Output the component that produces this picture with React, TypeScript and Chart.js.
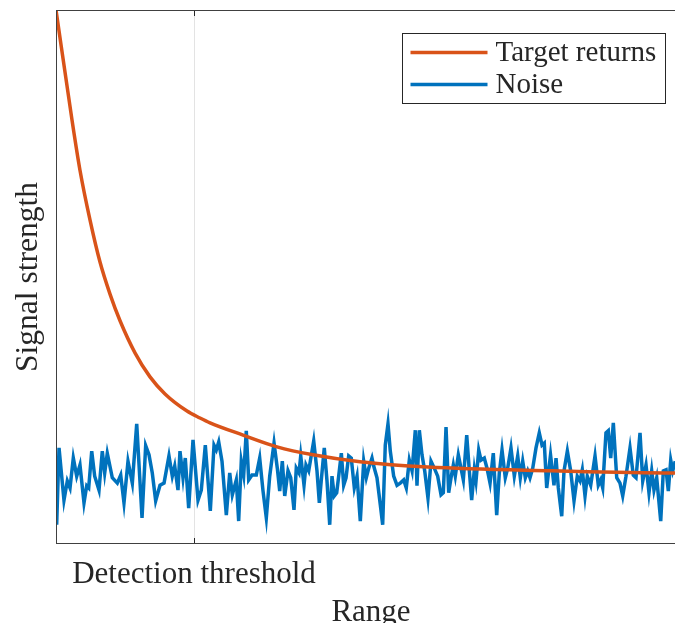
import { useEffect, useRef } from "react";
import { Chart, registerables } from "chart.js";

Chart.register(...registerables);

const rangeTitle = "Range";
const signalTitle = "Signal strength";
const rangeMax = 101.94;
const thresholdRange = 22.33;
const thresholdLabel = "Detection threshold";
const seriesNames = ["Target returns", "Noise"];
const seriesColors = ["#D95319", "#0072BD"];

const targetRange = [0, 2.59, 3.88, 5.5, 7.12, 8.74, 10.36, 12.78, 15.21, 17.64, 21.2, 23.3, 24.92, 30.26, 35.76, 41.59, 49.19, 60.19, 80.26, 100, 101.94];
const targetSignal = [1.0, 0.794, 0.7, 0.607, 0.528, 0.468, 0.418, 0.358, 0.313, 0.281, 0.249, 0.236, 0.227, 0.204, 0.182, 0.167, 0.154, 0.144, 0.137, 0.133, 0.133];

const noiseRange = [
  0.11, 0.49, 1.29, 1.83, 2.27, 2.8, 3.35, 3.88, 4.53, 4.97,
  5.29, 5.78, 6.26, 6.96, 7.49, 7.88, 8.3, 9.11, 9.92, 10.47,
  11.0, 11.65, 12.35, 13.06, 13.92, 14.51, 15.05, 15.58, 16.13, 16.83,
  17.48, 18.28, 18.82, 19.21, 19.74, 20.06,
  20.55, 20.92, 21.47, 22.17, 22.98, 23.51, 24.16, 24.97, 25.57, 25.94,
  26.33, 26.86, 27.56, 28.11, 28.53, 29.17, 29.56, 29.98, 30.37, 30.79,
  31.18, 31.72, 32.41, 32.96, 33.5, 34.03, 34.58, 35.28, 35.81, 36.2,
  36.62, 37.01, 37.54, 37.98, 38.51, 38.88, 39.32, 39.6, 40.13,
  40.45, 40.89, 41.15, 41.7, 42.23, 42.61, 42.93, 43.41, 43.85, 44.29,
  44.66, 45.03, 45.42, 45.74, 46.17, 46.55, 46.93, 47.36, 47.78, 48.27,
  48.71, 49.24, 49.79, 50.21, 50.6, 51.13, 51.41, 51.94, 52.48, 52.86,
  53.28, 53.72, 54.09, 54.64, 55.18, 55.71, 56.26, 56.68, 57.17, 57.61,
  58.14, 58.41, 58.79, 59.22, 59.66, 60.19,
  60.68, 61.21, 61.76, 62.3, 62.67, 63.11, 63.54, 63.92, 64.29, 64.61,
  65.1, 65.53, 65.91, 66.46, 66.88, 67.26, 67.69, 67.96, 68.4, 68.77,
  69.3, 69.74, 70.23, 70.76, 71.31, 71.73, 72.17, 72.7, 73.09, 73.62,
  74.16, 74.71, 75.13, 75.52, 75.94, 76.33, 76.7, 77.14, 77.67, 78.2,
  78.64, 79.01, 79.4,
  80.02, 80.58, 80.91, 81.28, 81.83, 82.2, 82.74, 83.28, 83.82, 84.35,
  84.79, 85.16, 85.6, 85.97, 86.52, 87.22, 87.75, 88.14, 88.46, 88.99,
  89.37, 89.76, 90.18, 90.73, 91.26, 91.7, 92.23, 92.88, 93.41, 93.85,
  94.5, 94.94, 95.47, 95.95, 96.39, 96.76, 97.2, 97.85, 98.27, 98.71,
  99.08, 99.47, 99.79, 100.2,
];
const noiseSignal = [
  0.036, 0.18, 0.082, 0.118, 0.105, 0.161, 0.127, 0.148, 0.077, 0.109,
  0.105, 0.174, 0.127, 0.101, 0.174, 0.133, 0.17, 0.124, 0.114, 0.129,
  0.077, 0.155, 0.114, 0.225, 0.049, 0.184, 0.167, 0.133, 0.081, 0.11,
  0.114, 0.165, 0.127, 0.146, 0.101, 0.174,
  0.124, 0.161, 0.067, 0.195, 0.082, 0.101, 0.185, 0.062, 0.185, 0.176,
  0.191, 0.155, 0.054, 0.133, 0.092, 0.12, 0.043, 0.155, 0.129, 0.212,
  0.12, 0.129, 0.129, 0.161, 0.099, 0.049, 0.127, 0.189, 0.142, 0.099,
  0.155, 0.09, 0.137, 0.124, 0.064, 0.142, 0.133, 0.165, 0.11,
  0.148, 0.137, 0.155, 0.193, 0.137, 0.077, 0.12, 0.18, 0.118, 0.036,
  0.127, 0.09, 0.096, 0.127, 0.17, 0.11, 0.124, 0.165, 0.161, 0.105,
  0.127, 0.043, 0.155, 0.124, 0.142, 0.161, 0.146, 0.124, 0.073, 0.036,
  0.185, 0.225, 0.174, 0.127, 0.11, 0.114, 0.12, 0.105, 0.157, 0.137,
  0.213, 0.109, 0.213, 0.167, 0.137, 0.086,
  0.155, 0.142, 0.127, 0.092, 0.096, 0.219, 0.096, 0.124, 0.148, 0.127,
  0.167, 0.142, 0.12, 0.204, 0.137, 0.082, 0.139, 0.118, 0.176, 0.157,
  0.161, 0.142, 0.114, 0.17, 0.054, 0.133, 0.176, 0.124, 0.142, 0.18,
  0.127, 0.165, 0.124, 0.155, 0.124, 0.137, 0.124, 0.142, 0.18, 0.208,
  0.185, 0.189, 0.105,
  0.167, 0.11, 0.161, 0.105, 0.052, 0.137, 0.174, 0.137, 0.081, 0.127,
  0.118, 0.139, 0.09, 0.127, 0.11, 0.165, 0.11, 0.12, 0.105, 0.208,
  0.212, 0.161, 0.227, 0.124, 0.114, 0.09, 0.127, 0.18, 0.129, 0.124,
  0.208, 0.118, 0.148, 0.096, 0.137, 0.101, 0.124, 0.043, 0.137, 0.139,
  0.099, 0.157, 0.137, 0.155,
];

const FONT = "'Liberation Serif', 'Times New Roman', serif";
const TEXT = "#262626";

const framePlugin = {
  id: "frameAndLegend",
  afterDatasetsDraw(chart: any) {
    const { ctx, chartArea: a, scales } = chart;
    ctx.save();
    const xs = Math.round(scales.x.getPixelForValue(thresholdRange)) + 0.5;
    ctx.strokeStyle = TEXT;
    ctx.lineWidth = 1;
    ctx.beginPath();
    ctx.moveTo(xs, a.bottom);
    ctx.lineTo(xs, a.bottom - 6);
    ctx.moveTo(xs, a.top);
    ctx.lineTo(xs, a.top + 6);
    ctx.stroke();
    ctx.strokeStyle = "#404040";
    ctx.strokeRect(a.left + 0.5, a.top + 0.5, a.right - a.left - 1, a.bottom - a.top - 1);

    // legend
    const bw = 263;
    const bh = 70;
    const bx = Math.round(a.right - 21 - bw) + 0.5;
    const by = Math.round(a.top + 23) + 0.5;
    ctx.fillStyle = "#ffffff";
    ctx.fillRect(bx, by, bw, bh);
    ctx.strokeStyle = TEXT;
    ctx.lineWidth = 1;
    ctx.strokeRect(bx, by, bw, bh);
    ctx.font = `29px ${FONT}`;
    ctx.textBaseline = "middle";
    ctx.textAlign = "left";
    chart.data.datasets.forEach((ds: any, i: number) => {
      const ry = by + 19 + i * 32;
      ctx.strokeStyle = ds.borderColor;
      ctx.lineWidth = 3.5;
      ctx.beginPath();
      ctx.moveTo(bx + 8, ry);
      ctx.lineTo(bx + 85, ry);
      ctx.stroke();
      ctx.fillStyle = TEXT;
      ctx.fillText(ds.label, bx + 93, ry + 1);
    });
    ctx.restore();
  },
};

export default function App() {
  const ref = useRef<HTMLCanvasElement | null>(null);
  useEffect(() => {
    if (!ref.current) return;
    const chart = new Chart(ref.current, {
      type: "line",
      data: {
        datasets: [
          {
            label: seriesNames[0],
            data: targetRange.map((x, i) => ({ x, y: targetSignal[i] })),
            borderColor: seriesColors[0],
            borderWidth: 3.5,
            pointRadius: 0,
            cubicInterpolationMode: "monotone",
            fill: false,
          },
          {
            label: seriesNames[1],
            data: noiseRange.map((x, i) => ({ x, y: noiseSignal[i] })),
            borderColor: seriesColors[1],
            borderWidth: 3.5,
            pointRadius: 0,
            tension: 0,
            fill: false,
          },
        ],
      },
      options: {
        responsive: false,
        animation: false,
        layout: { padding: { left: 0, right: 14, top: 10, bottom: 0 } },
        plugins: { legend: { display: false }, tooltip: { enabled: false } },
        scales: {
          x: {
            type: "linear",
            min: 0,
            max: rangeMax,
            afterBuildTicks: (s: any) => {
              s.ticks = [{ value: thresholdRange }];
            },
            afterFit: (s: any) => {
              s.height = 79;
            },
            ticks: {
              autoSkip: false,
              maxRotation: 0,
              padding: 12,
              color: TEXT,
              font: { family: FONT, size: 31 },
              callback: () => thresholdLabel,
            },
            grid: { display: true, color: "#e3e3e3", lineWidth: 1, drawTicks: false },
            border: { display: false },
            title: {
              display: true,
              text: rangeTitle,
              color: TEXT,
              font: { family: FONT, size: 31, lineHeight: 0.9 },
              padding: { top: 0, bottom: -4 },
            },
          },
          y: {
            type: "linear",
            min: 0,
            max: 1,
            afterFit: (s: any) => {
              s.width = 56;
            },
            ticks: { display: false },
            grid: { display: false },
            border: { display: false },
            title: {
              display: true,
              text: signalTitle,
              color: TEXT,
              font: { family: FONT, size: 31.5, lineHeight: 1.1 },
              padding: { top: 11, bottom: 0 },
            },
          },
        },
      },
      plugins: [framePlugin],
    });
    return () => chart.destroy();
  }, []);
  return (
    <div style={{ position: "fixed", left: 0, top: 0, width: 675, height: 623, overflow: "hidden", background: "#fff" }}>
      <canvas ref={ref} width={700} height={623} style={{ display: "block" }} />
    </div>
  );
}
